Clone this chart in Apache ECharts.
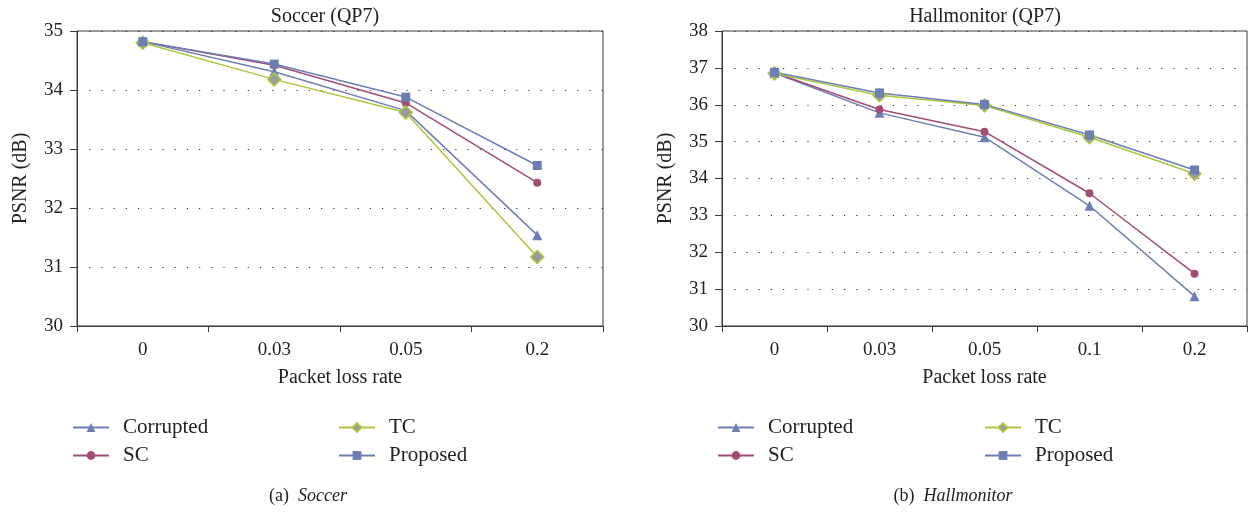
<!DOCTYPE html>
<html>
<head>
<meta charset="utf-8">
<title>PSNR vs packet loss rate</title>
<script src="https://cdn.jsdelivr.net/npm/echarts@6/dist/echarts.min.js"></script>
<style>
    html, body { margin: 0; padding: 0; background: #fff; }
    #chart { width: 1251px; height: 512px; }
</style>
</head>
<body>
<div id="chart"></div>
<script>
// data
var soccerRates = ['0', '0.03', '0.05', '0.2'];
var soccerCorrupted = [34.82, 34.31, 33.65, 31.54];
var soccerSC = [34.82, 34.42, 33.78, 32.43];
var soccerTC = [34.80, 34.18, 33.62, 31.17];
var soccerProposed = [34.82, 34.44, 33.88, 32.72];

var hallRates = ['0', '0.03', '0.05', '0.1', '0.2'];
var hallCorrupted = [36.86, 35.78, 35.12, 33.26, 30.81];
var hallSC = [36.87, 35.87, 35.27, 33.60, 31.42];
var hallTC = [36.85, 36.26, 35.98, 35.12, 34.13];
var hallProposed = [36.88, 36.32, 36.01, 35.18, 34.23];

var seriesNames = ['Corrupted', 'SC', 'TC', 'Proposed'];

(function (window) {
    'use strict';

    var FONT = '"Liberation Serif", "DejaVu Serif", serif';
    var TEXT = '#222';
    var AXIS = '#3a3a3a';
    var BLUE = '#6c7fb4';
    var RED = '#a24d76';
    var GREEN = '#a8c83c';
    var GREY = '#9b9b9b';

    var styles = {
        'Corrupted': { symbol: 'triangle', symbolSize: 10, line: BLUE, fill: BLUE, border: BLUE },
        'SC': { symbol: 'circle', symbolSize: 8, line: RED, fill: RED, border: RED },
        'TC': { symbol: 'diamond', symbolSize: 13, line: GREEN, fill: GREY, border: GREEN },
        'Proposed': { symbol: 'rect', symbolSize: 9, line: BLUE, fill: BLUE, border: BLUE }
    };

    function makeSeries(name, data, idx) {
        var st = styles[name];
        return {
            name: name,
            type: 'line',
            xAxisIndex: idx,
            yAxisIndex: idx,
            data: data,
            symbol: st.symbol,
            symbolSize: st.symbolSize,
            showAllSymbol: true,
            animation: false,
            lineStyle: { color: st.line, width: 1.5 },
            itemStyle: { color: st.fill, borderColor: st.border, borderWidth: name === 'TC' ? 1.5 : 0 }
        };
    }

    function makeXAxis(idx, cats) {
        return {
            type: 'category',
            gridIndex: idx,
            data: cats,
            boundaryGap: true,
            name: 'Packet loss rate',
            nameLocation: 'middle',
            nameGap: 42,
            nameTextStyle: { fontFamily: FONT, fontSize: 20, color: TEXT },
            axisLine: { lineStyle: { color: AXIS, width: 1 } },
            axisTick: { show: true, length: 6, lineStyle: { color: AXIS } },
            axisLabel: { fontFamily: FONT, fontSize: 19, color: TEXT, margin: 15 },
            splitLine: { show: false }
        };
    }

    function makeYAxis(idx, min, max) {
        return {
            type: 'value',
            gridIndex: idx,
            min: min,
            max: max,
            interval: 1,
            name: 'PSNR (dB)',
            nameLocation: 'middle',
            nameGap: 46,
            nameRotate: 90,
            nameTextStyle: { fontFamily: FONT, fontSize: 20, color: TEXT },
            axisLine: { show: true, lineStyle: { color: AXIS, width: 1 } },
            axisTick: { show: true, length: 7, lineStyle: { color: AXIS } },
            axisLabel: { fontFamily: FONT, fontSize: 19, color: TEXT, margin: 14 },
            splitLine: { show: true, lineStyle: { color: '#333', width: 1.2, type: [1.2, 11] } }
        };
    }

    function makeLegend(left, names) {
        return {
            left: left,
            top: 412,
            orient: 'vertical',
            itemWidth: 36,
            itemHeight: 11,
            itemGap: 7,
            selectedMode: false,
            data: names,
            textStyle: { fontFamily: FONT, fontSize: 21, lineHeight: 21, color: TEXT, padding: [0, 0, 0, 9] }
        };
    }

    function makeTitle(text, left, top, size) {
        return {
            text: text,
            left: left,
            top: top,
            textAlign: 'center',
            textStyle: {
                fontFamily: FONT, fontSize: size, fontWeight: 'normal', color: TEXT,
                rich: { i: { fontFamily: FONT, fontSize: size, fontStyle: 'italic', color: TEXT } }
            }
        };
    }

    var chart = echarts.init(document.getElementById('chart'));

    var option = {
        backgroundColor: '#ffffff',
        animation: false,
        title: [
            makeTitle('Soccer (QP7)', 320, 2, 20),
            makeTitle('Hallmonitor (QP7)', 980, 2, 20),
            makeTitle('(a)  {i|Soccer}', 303, 482, 18),
            makeTitle('(b)  {i|Hallmonitor}', 948, 482, 18)
        ],
        legend: [
            makeLegend(67, ['Corrupted', 'SC']),
            makeLegend(333, ['TC', 'Proposed']),
            makeLegend(712, ['Corrupted', 'SC']),
            makeLegend(979, ['TC', 'Proposed'])
        ],
        grid: [
            { left: 77, top: 31, width: 526, height: 295, show: true, borderColor: AXIS, borderWidth: 1 },
            { left: 722, top: 31, width: 525, height: 295, show: true, borderColor: AXIS, borderWidth: 1 }
        ],
        xAxis: [makeXAxis(0, soccerRates), makeXAxis(1, hallRates)],
        yAxis: [makeYAxis(0, 30, 35), makeYAxis(1, 30, 38)],
        series: [
            makeSeries(seriesNames[0], soccerCorrupted, 0),
            makeSeries(seriesNames[1], soccerSC, 0),
            makeSeries(seriesNames[2], soccerTC, 0),
            makeSeries(seriesNames[3], soccerProposed, 0),
            makeSeries(seriesNames[0], hallCorrupted, 1),
            makeSeries(seriesNames[1], hallSC, 1),
            makeSeries(seriesNames[2], hallTC, 1),
            makeSeries(seriesNames[3], hallProposed, 1)
        ]
    };

    chart.setOption(option);
})(window);
</script>
</body>
</html>
